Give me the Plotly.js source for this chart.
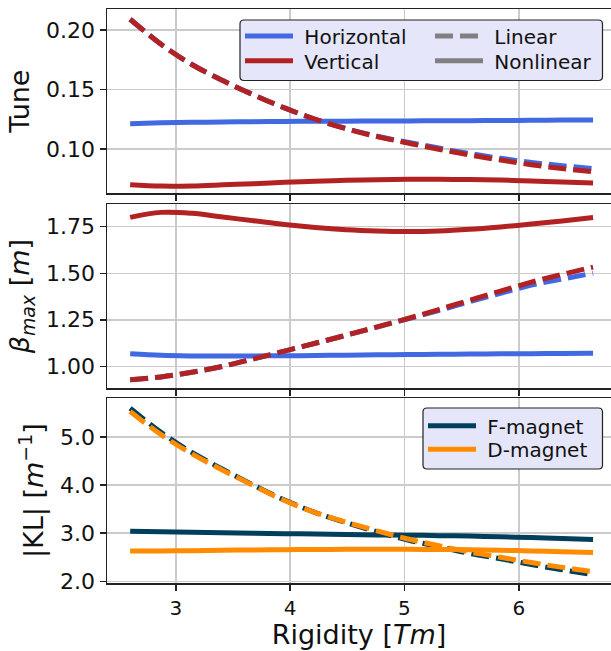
<!DOCTYPE html>
<html>
<head>
<meta charset="utf-8">
<script src="https://cdn.plot.ly/plotly-3.0.1.min.js"></script>
<style>html,body{margin:0;padding:0;background:#fff;}#chart{width:611px;height:651px;}</style>
</head>
<body>
<div id="chart"></div>
<script>
// ---- data ----
const rigidity = [2.6, 2.87, 3.14, 3.41, 3.68, 3.95, 4.22, 4.49, 4.76, 5.03, 5.3, 5.57, 5.84, 6.11, 6.38, 6.65];

const tuneHNonlin = [0.1213, 0.1220, 0.1224, 0.1227, 0.1230, 0.1232, 0.1233, 0.1234, 0.1235, 0.1236, 0.1237, 0.1238, 0.1240, 0.1241, 0.1243, 0.1244];
const tuneVNonlin = [0.0700, 0.0689, 0.0690, 0.0699, 0.0709, 0.0720, 0.0729, 0.0737, 0.0742, 0.0745, 0.0745, 0.0743, 0.0739, 0.0732, 0.0723, 0.0714];
const tuneHLin    = [0.2090, 0.1880, 0.1710, 0.1575, 0.1455, 0.1345, 0.1250, 0.1172, 0.1107, 0.1057, 0.1008, 0.0962, 0.0922, 0.0887, 0.0860, 0.0835];
const tuneVLin    = [0.2090, 0.1880, 0.1710, 0.1575, 0.1455, 0.1345, 0.1250, 0.1170, 0.1105, 0.1050, 0.0998, 0.0950, 0.0907, 0.0868, 0.0836, 0.0810];

const betaHNonlin = [1.067, 1.059, 1.056, 1.055, 1.056, 1.057, 1.058, 1.060, 1.062, 1.063, 1.065, 1.066, 1.067, 1.068, 1.069, 1.070];
const betaVNonlin = [1.800, 1.827, 1.822, 1.802, 1.782, 1.762, 1.746, 1.734, 1.727, 1.724, 1.727, 1.736, 1.749, 1.764, 1.781, 1.800];
const betaHLin    = [0.928, 0.943, 0.968, 1.000, 1.040, 1.082, 1.124, 1.167, 1.211, 1.255, 1.300, 1.347, 1.392, 1.436, 1.469, 1.500];
const betaVLin    = [0.928, 0.943, 0.968, 1.000, 1.040, 1.082, 1.124, 1.167, 1.212, 1.257, 1.305, 1.355, 1.404, 1.452, 1.494, 1.533];

const klFNonlin = [3.04, 3.03, 3.02, 3.01, 3.00, 2.99, 2.985, 2.975, 2.965, 2.96, 2.95, 2.94, 2.925, 2.91, 2.89, 2.87];
const klDNonlin = [2.63, 2.633, 2.637, 2.645, 2.652, 2.658, 2.662, 2.665, 2.666, 2.665, 2.662, 2.655, 2.645, 2.632, 2.617, 2.60];
const klFLin    = [5.60, 5.10, 4.68, 4.33, 4.00, 3.69, 3.43, 3.22, 3.03, 2.86, 2.72, 2.58, 2.47, 2.35, 2.24, 2.14];
const klDLin    = [5.53, 5.05, 4.65, 4.31, 3.99, 3.68, 3.43, 3.23, 3.05, 2.88, 2.74, 2.61, 2.50, 2.39, 2.29, 2.20];

const xTicks = [3, 4, 5, 6];
const tuneTicks = [0.10, 0.15, 0.20];
const betaTicks = [1.00, 1.25, 1.50, 1.75];
const klTicks = [2.0, 3.0, 4.0, 5.0];

// ---- style ----
const BLUE = '#4169E1', RED = '#B22222', NAVY = '#003F5C', ORANGE = '#FF8C00', GRAY = '#808080';
const LW = 5, DASH = '18px,7px';
const FONT = 'DejaVu Sans, Liberation Sans, sans-serif';
const SP = '\u00a0';

const W = 611, H = 651, ML = 107, MR = 0, MT = 9, MB = 68;
const PW = W - ML - MR, PH = H - MT - MB;
const px2x = p => (p - ML) / PW;
const px2y = p => (H - MB - p) / PH;

function line(x, y, color, dash, xa, ya, extra) {
  return Object.assign({
    x: x, y: y, type: 'scatter', mode: 'lines', xaxis: xa, yaxis: ya,
    line: {color: color, width: LW, dash: dash, shape: 'spline', smoothing: 1},
    showlegend: false, hoverinfo: 'skip'
  }, extra || {});
}

const traces = [
  // panel 1 : tune
  line(rigidity, tuneHNonlin, BLUE, 'solid', 'x', 'y', {name: SP + 'Horizontal', showlegend: true, legend: 'legend'}),
  line(rigidity, tuneHLin, BLUE, DASH, 'x', 'y'),
  line(rigidity, tuneVNonlin, RED, 'solid', 'x', 'y', {name: SP + 'Vertical', showlegend: true, legend: 'legend2'}),
  line(rigidity, tuneVLin, RED, DASH, 'x', 'y'),
  line([null], [null], GRAY, DASH, 'x', 'y', {name: SP + 'Linear', showlegend: true, legend: 'legend3'}),
  line([null], [null], GRAY, 'solid', 'x', 'y', {name: SP + 'Nonlinear', showlegend: true, legend: 'legend4'}),
  // panel 2 : beta max
  line(rigidity, betaHNonlin, BLUE, 'solid', 'x2', 'y2'),
  line(rigidity, betaHLin, BLUE, DASH, 'x2', 'y2'),
  line(rigidity, betaVNonlin, RED, 'solid', 'x2', 'y2'),
  line(rigidity, betaVLin, RED, DASH, 'x2', 'y2'),
  // panel 3 : KL
  line(rigidity, klFNonlin, NAVY, 'solid', 'x3', 'y3', {name: SP + 'F-magnet', showlegend: true, legend: 'legend5'}),
  line(rigidity, klFLin, NAVY, DASH, 'x3', 'y3'),
  line(rigidity, klDNonlin, ORANGE, 'solid', 'x3', 'y3', {name: SP + 'D-magnet', showlegend: true, legend: 'legend6'}),
  line(rigidity, klDLin, ORANGE, DASH, 'x3', 'y3')
];

const xRange = [2.3975, 6.807];
function xax(anchor, showLabels) {
  return {
    anchor: anchor, domain: [0, 1], range: xRange, tickvals: xTicks,
    showticklabels: showLabels, ticks: 'outside', ticklen: 6, tickwidth: 1.5, tickcolor: '#222',
    showline: true, linecolor: '#222', linewidth: 1.5, mirror: true,
    showgrid: true, gridcolor: '#cbcbcb', gridwidth: 1.5, zeroline: false,
    tickfont: {family: FONT, size: 20, color: '#111'}
  };
}
function yax(anchor, domain, range, ticks, fmt, title) {
  return {
    anchor: anchor, domain: domain, range: range, tickvals: ticks, tickformat: fmt,
    ticks: 'outside', ticklen: 6, tickwidth: 1.5, tickcolor: '#222',
    showline: true, linecolor: '#222', linewidth: 1.5, mirror: false,
    showgrid: true, gridcolor: '#cbcbcb', gridwidth: 1.5, zeroline: false,
    tickfont: {family: FONT, size: 22, color: '#111'},
    title: {text: title, font: {family: FONT, size: 27, color: '#111'}, standoff: 8}
  };
}

function roundRect(x0, y0, x1, y1, r) {
  const X = px2x, Y = px2y;
  return 'M' + X(x0 + r) + ',' + Y(y0) +
    ' L' + X(x1 - r) + ',' + Y(y0) + ' Q' + X(x1) + ',' + Y(y0) + ' ' + X(x1) + ',' + Y(y0 + r) +
    ' L' + X(x1) + ',' + Y(y1 - r) + ' Q' + X(x1) + ',' + Y(y1) + ' ' + X(x1 - r) + ',' + Y(y1) +
    ' L' + X(x0 + r) + ',' + Y(y1) + ' Q' + X(x0) + ',' + Y(y1) + ' ' + X(x0) + ',' + Y(y1 - r) +
    ' L' + X(x0) + ',' + Y(y0 + r) + ' Q' + X(x0) + ',' + Y(y0) + ' ' + X(x0 + r) + ',' + Y(y0) + ' Z';
}

const legFont = {family: FONT, size: 20, color: '#111'};
function leg(xpx, ycenterpx) {
  return {x: px2x(xpx), y: px2y(ycenterpx), xanchor: 'left', yanchor: 'middle', xref: 'paper', yref: 'paper',
    bgcolor: 'rgba(0,0,0,0)', borderwidth: 0, font: legFont, itemwidth: 48, tracegroupgap: 0,
    orientation: 'v'};
}

const layout = {
  width: W, height: H, margin: {l: ML, r: MR, t: MT, b: MB},
  paper_bgcolor: '#fff', plot_bgcolor: '#fff', showlegend: true,
  font: {family: FONT, color: '#111'},
  xaxis: xax('y', false),
  xaxis2: xax('y2', false),
  xaxis3: Object.assign(xax('y3', true), {title: {text: 'Rigidity [<i>Tm</i>]', font: {family: FONT, size: 27, color: '#111'}, standoff: 6}}),
  yaxis: yax('x', [px2y(193.3), 1], [0.0628, 0.2176], tuneTicks, '.2f', 'Tune'),
  yaxis2: yax('x2', [px2y(388.3), px2y(204)], [0.882, 1.872], betaTicks, '.2f', '<i>β</i><sub><i>max</i></sub> [<i>m</i>]'),
  yaxis3: yax('x3', [0, px2y(398.3)], [1.965, 5.806], klTicks, '.1f', '|KL| [<i>m</i><sup>−1</sup>]'),
  legend: leg(240, 36),
  legend2: leg(240, 60.7),
  legend3: leg(430, 36),
  legend4: leg(430, 60.7),
  legend5: leg(423, 425.7),
  legend6: leg(423, 449.3),
  shapes: [
    {type: 'path', xref: 'paper', yref: 'paper', layer: 'above', path: roundRect(240, 20, 602.5, 80.5, 4),
     fillcolor: '#E6E6FA', line: {color: '#222', width: 1.2}},
    {type: 'path', xref: 'paper', yref: 'paper', layer: 'above', path: roundRect(423, 408, 602.5, 469, 4),
     fillcolor: '#E6E6FA', line: {color: '#222', width: 1.2}}
  ]
};

Plotly.newPlot('chart', traces, layout, {displayModeBar: false, staticPlot: true});
</script>
</body>
</html>
